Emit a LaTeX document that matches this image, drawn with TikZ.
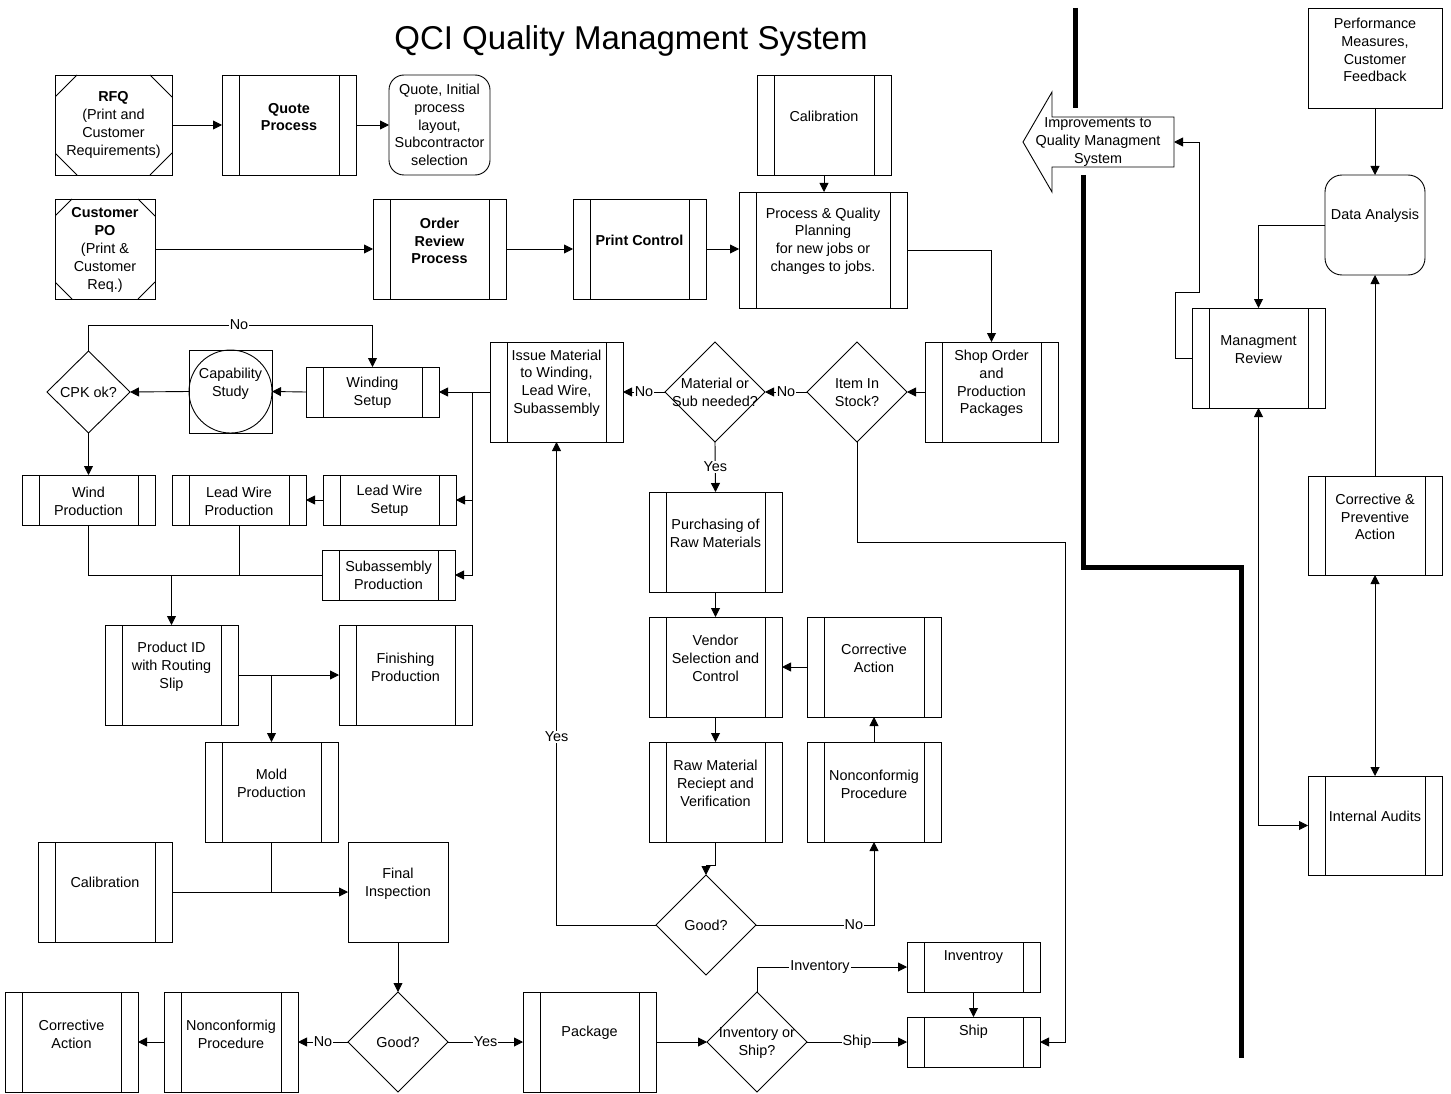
\documentclass[tikz,border=0pt]{standalone}
\usepackage{fontspec}
\setmainfont{Liberation Sans}
\usetikzlibrary{arrows.meta,shapes.geometric,calc}
\tikzset{
  box/.style={draw, rectangle, inner sep=0pt, outer sep=0pt},
  sz/.style 2 args={minimum width=#1pt, minimum height=#2pt},
  pbox/.style={box, path picture={
    \draw ([xshift=17pt]path picture bounding box.south west) -- ([xshift=17pt]path picture bounding box.north west);
    \draw ([xshift=-17pt]path picture bounding box.south east) -- ([xshift=-17pt]path picture bounding box.north east);}},
  cutbox/.style={box, path picture={
    \draw ([yshift=-#1pt]path picture bounding box.north west) -- ([xshift=#1pt]path picture bounding box.north west);
    \draw ([yshift=-#1pt]path picture bounding box.north east) -- ([xshift=-#1pt]path picture bounding box.north east);
    \draw ([yshift=#1pt]path picture bounding box.south west) -- ([xshift=#1pt]path picture bounding box.south west);
    \draw ([yshift=#1pt]path picture bounding box.south east) -- ([xshift=-#1pt]path picture bounding box.south east);}},
  rbox/.style={box, rounded corners=#1pt},
  dia/.style={draw, diamond, inner sep=0pt, outer sep=0pt},
  txt/.style={align=center, inner sep=0pt, font=\fontsize{14.4}{17.8}\selectfont},
  lbl/.style={fill=white, inner sep=1pt, font=\fontsize{14.4}{17.8}\selectfont},
  arr/.style={-{Triangle[length=9pt,width=9pt]}},
  arrb/.style={{Triangle[length=9pt,width=9pt]}-{Triangle[length=9pt,width=9pt]}},
  thick line/.style={line width=5pt}
}
\begin{document}
\begin{tikzpicture}[x=1pt,y=-1pt,line width=0.9pt]
\fill[white] (0,0) rectangle (1451,1094);
\useasboundingbox (0,0) rectangle (1451,1094);

\node[font=\fontsize{33}{40}\selectfont, inner sep=0pt] (title) at (631,41) {QCI Quality Managment System};

% ---- top rows ----
\node[cutbox=22, sz={117}{100}] (rfq) at (113.5,125) {};
\node[txt] (rfq-t) at (113.5,125) {\textbf{RFQ}\\(Print and\\Customer\\Requirements)};
\node[pbox, sz={134}{100}] (quote) at (289,125) {};
\node[txt] (quote-t) at (289,117) {\textbf{Quote}\\\textbf{Process}};
\node[rbox=15, sz={101}{100}] (qout) at (439.5,125) {};
\node[txt] (qout-t) at (439.5,125) {Quote, Initial\\process\\layout,\\Subcontractor\\selection};

\node[cutbox=17, sz={100}{100}] (po) at (105,249) {};
\node[txt] (po-t) at (105,250) {\textbf{Customer}\\\textbf{PO}\\(Print \&\\Customer\\Req.)};
\node[pbox, sz={133}{100}] (order) at (439.5,249) {};
\node[txt] (order-t) at (439.5,241) {\textbf{Order}\\\textbf{Review}\\\textbf{Process}};
\node[pbox, sz={133}{100}] (print) at (639.5,249) {};
\node[txt] (print-t) at (639.5,240) {\textbf{Print Control}};
\node[pbox, sz={168}{116}] (pqp) at (823,250) {};
\node[txt] (pqp-t) at (823,241) {Process \& Quality\\Planning\\for new jobs or\\changes to jobs.};
\node[pbox, sz={134}{100}] (calib1) at (824,125) {};
\node[txt] (calib1-t) at (824,116) {Calibration};

% ---- third row ----
\node[pbox, sz={133}{100}] (shop) at (991.5,392) {};
\node[txt] (shop-t) at (991.5,383.5) {Shop Order\\and\\Production\\Packages};
\node[dia, sz={100}{100}] (item) at (857,392) {};
\node[txt] (item-t) at (857,392.5) {Item In\\Stock?};
\node[dia, sz={100}{100}] (matl) at (715,392) {};
\node[txt] (matl-t) at (715,392.5) {Material or\\Sub needed?};
\node[pbox, sz={133}{100}] (issue) at (556.5,392) {};
\node[txt] (issue-t) at (556.5,383) {Issue Material\\to Winding,\\Lead Wire,\\Subassembly};
\node[pbox, sz={133}{50}] (winding) at (372.5,392) {};
\node[txt] (winding-t) at (372.5,392.5) {Winding\\Setup};
\node[box, sz={83}{83}] (cap) at (230.5,391.5) {};
\node[draw, circle, minimum size=83pt, inner sep=0pt] (capc) at (cap.center) {};
\node[txt] (cap-t) at (230.5,383.5) {Capability\\Study};
\node[dia, sz={83}{82}] (cpk) at (88.5,392) {};
\node[txt] (cpk-t) at (88.5,392) {CPK ok?};

\node[pbox, sz={133}{50}] (windprod) at (88.5,500) {};
\node[txt] (windprod-t) at (88.5,501) {Wind\\Production};
\node[pbox, sz={134}{50}] (leadprod) at (239,500) {};
\node[txt] (leadprod-t) at (239,501) {Lead Wire\\Production};
\node[pbox, sz={133}{50}] (leadsetup) at (389.5,500) {};
\node[txt] (leadsetup-t) at (389.5,501) {Lead Wire\\Setup};
\node[pbox, sz={133}{50}] (subasm) at (388.5,575) {};
\node[txt] (subasm-t) at (388.5,575.5) {Subassembly\\Production};

\node[pbox, sz={133}{100}] (prodid) at (171.5,675) {};
\node[txt] (prodid-t) at (171.5,667) {Product ID\\with Routing\\Slip};
\node[pbox, sz={133}{100}] (finishing) at (405.5,675) {};
\node[txt] (finishing-t) at (405.5,667) {Finishing\\Production};
\node[pbox, sz={133}{100}] (mold) at (271.5,792) {};
\node[txt] (mold-t) at (271.5,783) {Mold\\Production};
\node[pbox, sz={134}{100}] (calib2) at (105,892) {};
\node[txt] (calib2-t) at (105,882) {Calibration};
\node[box, sz={100}{100}] (final) at (398,892) {};
\node[txt] (final-t) at (398,884) {Final\\Inspection};

\node[dia, sz={100}{100}] (good1) at (398,1042) {};
\node[txt] (good1-t) at (398,1042) {Good?};
\node[pbox, sz={134}{100}] (nonconf1) at (231,1042) {};
\node[txt] (nonconf1-t) at (231,1034) {Nonconformig\\Procedure};
\node[pbox, sz={133}{100}] (corr1) at (71.5,1042) {};
\node[txt] (corr1-t) at (71.5,1034) {Corrective\\Action};
\node[pbox, sz={133}{100}] (package) at (589.5,1042) {};
\node[txt] (package-t) at (589.5,1033) {Package};
\node[dia, sz={100}{100}] (invship) at (757,1042) {};
\node[txt] (invship-t) at (757,1043) {Inventory or\\Ship?};
\node[pbox, sz={133}{50}] (inventroy) at (973.5,967) {};
\node[txt] (inventroy-t) at (973.5,957) {Inventroy};
\node[pbox, sz={133}{50}] (ship) at (973.5,1042) {};
\node[txt] (ship-t) at (973.5,1032) {Ship};

% ---- middle column ----
\node[dia, sz={100}{100}] (good2) at (706,925) {};
\node[txt] (good2-t) at (706,925) {Good?};
\node[pbox, sz={133}{100}] (purch) at (715.5,542) {};
\node[txt] (purch-t) at (715.5,533) {Purchasing of\\Raw Materials};
\node[pbox, sz={133}{100}] (vendor) at (715.5,667) {};
\node[txt] (vendor-t) at (715.5,658.5) {Vendor\\Selection and\\Control};
\node[pbox, sz={134}{100}] (corr2) at (874,667) {};
\node[txt] (corr2-t) at (874,658.5) {Corrective\\Action};
\node[pbox, sz={133}{100}] (rawmat) at (715.5,792) {};
\node[txt] (rawmat-t) at (715.5,783.5) {Raw Material\\Reciept and\\Verification};
\node[pbox, sz={134}{100}] (nonconf2) at (874,792) {};
\node[txt] (nonconf2-t) at (874,784) {Nonconformig\\Procedure};

% ---- right part ----
\node[box, sz={134}{100}] (perf) at (1375,58) {};
\node[txt] (perf-t) at (1375,50) {Performance\\Measures,\\Customer\\Feedback};
\node[rbox=17, sz={100}{100}] (data) at (1375,225) {};
\node[txt] (data-t) at (1375,216) {Data Analysis};
\node[pbox, sz={133}{100}] (mgmt) at (1258.5,358) {};
\node[txt] (mgmt-t) at (1258.5,350) {Managment\\Review};
\node[pbox, sz={134}{99}] (cpa) at (1375,525.5) {};
\node[txt] (cpa-t) at (1375,517) {Corrective \&\\Preventive\\Action};
\node[pbox, sz={134}{99}] (audits) at (1375,825.5) {};
\node[txt] (audits-t) at (1375,816) {Internal Audits};

\node[inner sep=0pt, outer sep=0pt, sz={151}{100}] (improve) at (1098.5,142) {};
\draw (improve.east |- 0,117) -- (1052,117) -- (1052,92) -- (improve.west) -- (1052,192) -- (1052,167) -- (improve.east |- 0,167) -- cycle;
\node[txt] (improve-t) at (1098,142) {Improvements to\\Quality Managment\\System};

\draw[thick line] (1075,8) -- (1075,108);
\draw[thick line] (1083,175) -- (1083,567) -- (1241,567) -- (1241,1058);

% ---- connectors ----
\draw[arr] (rfq.east) -- (quote.west);
\draw[arr] (quote.east) -- (qout.west);
\draw[arr] (po.east) -- (order.west);
\draw[arr] (order.east) -- (print.west);
\draw[arr] (print.east) -- (print.east -| pqp.west);
\draw[arr] (calib1.south) -- (calib1.south |- pqp.north);
\draw[arr] (pqp.east) -| (shop.north);
\draw[arr] (shop.west) -- (item.east);
\draw[arr] (item.west) -- node[lbl]{No} (matl.east);
\draw[arr] (matl.west) -- node[lbl]{No} (issue.east);
\draw[arr] (matl.south) -- node[lbl]{Yes} (purch.north);
\coordinate (c1) at (1065,542);
\draw[arr] (item.south) |- (c1) |- (ship.east);

\coordinate (br) at (472,392);
\draw[arr] (issue.west) -- (winding.east);
\draw[arr] (br) |- (subasm.east);
\draw[arr] (br |- leadsetup.east) -- (leadsetup.east);
\draw[arr] (winding.west) -- (cap.east);
\draw[arr] (cap.west) -- (cpk.east);
\coordinate (cpkup) at (88.5,325);
\coordinate (windup) at (372.5,325);
\draw[arr] (cpk.north) -- (cpkup) -- node[lbl,pos=0.53]{No} (windup) -- (winding.north);
\draw[arr] (cpk.south) -- (cpk.south |- windprod.north);
\draw[arr] (leadsetup.west) -- (leadprod.east);
\draw (windprod.south) |- (subasm.west);
\draw (leadprod.south) -- (leadprod.south |- subasm.west);
\draw[arr] (prodid.north |- subasm.west) -- (prodid.north);
\draw[arr] (prodid.east) -- (finishing.west);
\draw[arr] (mold.north |- prodid.east) -- (mold.north);
\draw (mold.south) -- (mold.south |- final.west);
\draw[arr] (calib2.east) -- (final.west);
\draw[arr] (final.south) -- (good1.north);
\draw[arr] (good1.west) -- node[lbl]{No} (nonconf1.east);
\draw[arr] (nonconf1.west) -- (corr1.east);
\draw[arr] (good1.east) -- node[lbl]{Yes} (package.west);
\draw[arr] (package.east) -- (invship.west);
\draw[arr] (invship.east) -- node[lbl]{Ship} (ship.west);
\draw[arr] (invship.north) |- node[lbl,pos=0.71]{Inventory} (inventroy.west);
\draw[arr] (inventroy.south) -- (ship.north);

\draw[arr] (purch.south) -- (vendor.north);
\draw[arr] (vendor.south) -- (rawmat.north);
\draw[arr] (corr2.west) -- (vendor.east);
\draw[arr] (nonconf2.north) -- (corr2.south);
\draw[arr] (rawmat.south) -- ++(0,23) -| (good2.north);
\draw[arr] (good2.west) -| node[lbl,pos=0.695]{Yes} (issue.south);
\draw[arr] (good2.east) -| node[lbl,pos=0.415]{No} (nonconf2.south);

\draw[arr] (perf.south) -- (data.north);
\draw[arr] (data.west) -| (mgmt.north);
\draw[arr] (mgmt.west) -- ++(-17,0) -- ++(0,-66) -- ++(24,0) |- (improve.east);
\draw[arr] (cpa.north) -- (data.south);
\draw[arrb] (cpa.south) -- (audits.north);
\draw[arrb] (mgmt.south) |- (audits.west);
\end{tikzpicture}
\end{document}
